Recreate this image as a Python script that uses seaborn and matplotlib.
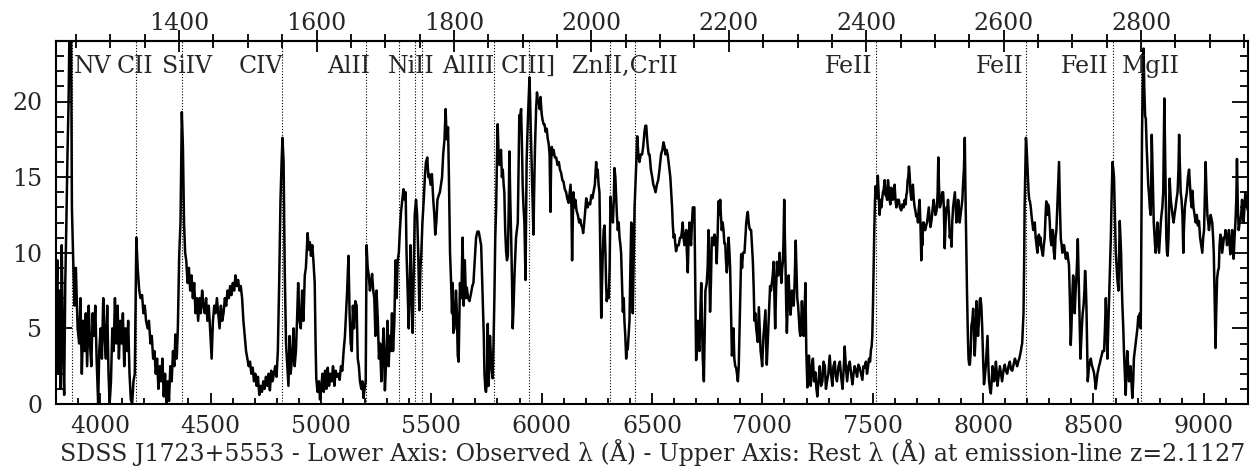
import matplotlib
matplotlib.use("Agg")
import matplotlib.pyplot as plt
from matplotlib.ticker import MultipleLocator, FixedLocator
import seaborn as sns

# SDSS J1723+5553, flux
z_em = 2.1127

wave_obs = [
    3800, 3806, 3811, 3816, 3821, 3826, 3831, 3837, 3842, 3847,
    3852, 3857, 3862, 3868, 3872, 3878, 3884, 3890, 3898, 3905,
    3911, 3917, 3923, 3929, 3935, 3941, 3948, 3954, 3960, 3966,
    3972, 3978, 3984, 3991, 3996, 4002, 4008, 4014, 4020, 4026,
    4032, 4038, 4043, 4049, 4055, 4061, 4067, 4073, 4079, 4085,
    4091, 4097, 4103, 4109, 4115, 4121, 4127, 4133, 4139, 4145,
    4151, 4157, 4160, 4164, 4170, 4177, 4183, 4190, 4196, 4202,
    4208, 4215, 4221, 4228, 4234, 4240, 4246, 4252, 4258, 4264,
    4270, 4276, 4282, 4288, 4294, 4300, 4306, 4312, 4318, 4324,
    4330, 4336, 4341, 4347, 4352, 4358, 4364, 4370, 4375, 4380,
    4385, 4390, 4396, 4402, 4408, 4414, 4420, 4426, 4432, 4438,
    4444, 4450, 4456, 4462, 4468, 4474, 4480, 4486, 4492, 4498,
    4505, 4511, 4517, 4523, 4529, 4535, 4541, 4547, 4553, 4559,
    4565, 4571, 4577, 4583, 4589, 4595, 4601, 4607, 4613, 4619,
    4625, 4631, 4637, 4643, 4649, 4655, 4661, 4667, 4673, 4679,
    4685, 4691, 4697, 4703, 4709, 4715, 4721, 4727, 4733, 4739,
    4745, 4751, 4757, 4763, 4769, 4775, 4781, 4787, 4793, 4799,
    4805, 4811, 4817, 4822, 4826, 4831, 4836, 4842, 4848, 4853,
    4858, 4863, 4869, 4876, 4881, 4887, 4893, 4897, 4903, 4909,
    4915, 4921, 4927, 4932, 4937, 4940, 4945, 4950, 4955, 4961,
    4966, 4972, 4976, 4979, 4985, 4991, 4996, 5001, 5007, 5013,
    5019, 5025, 5031, 5037, 5043, 5049, 5055, 5061, 5067, 5073,
    5079, 5085, 5091, 5097, 5103, 5109, 5114, 5119, 5125, 5130,
    5135, 5140, 5145, 5150, 5156, 5162, 5167, 5172, 5177, 5183,
    5188, 5193, 5198, 5203, 5207, 5212, 5217, 5222, 5227, 5232,
    5237, 5242, 5247, 5252, 5258, 5263, 5268, 5274, 5279, 5284,
    5290, 5296, 5302, 5307, 5312, 5317, 5322, 5327, 5333, 5338,
    5343, 5348, 5353, 5358, 5363, 5369, 5374, 5380, 5384, 5388,
    5392, 5398, 5403, 5406, 5411, 5416, 5421, 5425, 5431, 5436,
    5441, 5446, 5451, 5455, 5460, 5466, 5471, 5476, 5482, 5487,
    5491, 5497, 5503, 5509, 5514, 5518, 5523, 5528, 5534, 5539,
    5544, 5549, 5554, 5560, 5565, 5570, 5576, 5580, 5585, 5590,
    5594, 5597, 5600, 5605, 5612, 5616, 5620, 5624, 5630, 5636,
    5642, 5647, 5652, 5657, 5661, 5667, 5673, 5680, 5686, 5691,
    5697, 5703, 5709, 5715, 5720, 5726, 5733, 5738, 5741, 5745,
    5748, 5752, 5756, 5760, 5766, 5772, 5778, 5782, 5786, 5790,
    5794, 5798, 5801, 5805, 5809, 5813, 5816, 5820, 5824, 5828,
    5831, 5835, 5839, 5843, 5847, 5851, 5854, 5858, 5862, 5866,
    5869, 5873, 5877, 5881, 5884, 5888, 5892, 5896, 5899, 5903,
    5907, 5911, 5914, 5918, 5922, 5927, 5932, 5936, 5940, 5945,
    5948, 5951, 5957, 5963, 5966, 5970, 5975, 5979, 5983, 5987,
    5991, 5995, 6000, 6004, 6009, 6013, 6018, 6023, 6028, 6032,
    6036, 6040, 6043, 6046, 6050, 6054, 6060, 6066, 6072, 6078,
    6083, 6088, 6094, 6099, 6105, 6111, 6116, 6122, 6127, 6131,
    6135, 6138, 6141, 6144, 6149, 6153, 6158, 6164, 6170, 6175,
    6180, 6184, 6188, 6191, 6196, 6202, 6208, 6214, 6220, 6225,
    6230, 6235, 6241, 6247, 6251, 6254, 6258, 6262, 6266, 6270,
    6274, 6277, 6281, 6285, 6289, 6292, 6295, 6300, 6304, 6308,
    6312, 6317, 6323, 6327, 6330, 6334, 6338, 6341, 6345, 6349,
    6353, 6357, 6360, 6364, 6368, 6372, 6375, 6379, 6383, 6387,
    6390, 6394, 6398, 6402, 6406, 6410, 6413, 6418, 6421, 6425,
    6429, 6433, 6438, 6443, 6449, 6455, 6460, 6466, 6470, 6474,
    6478, 6481, 6485, 6489, 6495, 6501, 6506, 6511, 6516, 6522,
    6528, 6534, 6541, 6547, 6552, 6557, 6561, 6566, 6571, 6575,
    6579, 6583, 6587, 6591, 6594, 6598, 6602, 6606, 6609, 6615,
    6621, 6627, 6632, 6636, 6639, 6643, 6647, 6651, 6655, 6658,
    6662, 6666, 6670, 6674, 6677, 6681, 6685, 6689, 6692, 6696,
    6700, 6704, 6707, 6711, 6715, 6719, 6723, 6727, 6730, 6735,
    6738, 6742, 6748, 6752, 6756, 6760, 6763, 6767, 6771, 6775,
    6779, 6783, 6786, 6790, 6793, 6797, 6801, 6805, 6809, 6812,
    6816, 6820, 6824, 6828, 6832, 6835, 6839, 6843, 6847, 6851,
    6854, 6858, 6862, 6866, 6869, 6873, 6877, 6881, 6885, 6889,
    6893, 6896, 6900, 6904, 6908, 6912, 6919, 6923, 6927, 6931,
    6934, 6938, 6942, 6946, 6949, 6953, 6957, 6961, 6964, 6968,
    6972, 6976, 6979, 6984, 6988, 6992, 6996, 6999, 7005, 7010,
    7014, 7017, 7020, 7024, 7028, 7031, 7035, 7039, 7043, 7047,
    7051, 7055, 7058, 7062, 7066, 7069, 7072, 7075, 7078, 7082,
    7086, 7090, 7093, 7096, 7099, 7102, 7105, 7108, 7111, 7115,
    7119, 7123, 7127, 7131, 7134, 7138, 7142, 7146, 7151, 7155,
    7158, 7162, 7166, 7169, 7172, 7176, 7179, 7183, 7187, 7191,
    7195, 7199, 7204, 7208, 7211, 7215, 7219, 7224, 7229, 7234,
    7240, 7245, 7249, 7254, 7260, 7266, 7272, 7277, 7283, 7288,
    7293, 7299, 7305, 7311, 7317, 7322, 7328, 7333, 7338, 7345,
    7351, 7357, 7363, 7368, 7373, 7378, 7384, 7390, 7396, 7402,
    7408, 7413, 7418, 7424, 7429, 7435, 7441, 7447, 7453, 7458,
    7463, 7469, 7474, 7479, 7483, 7488, 7492, 7495, 7498, 7501,
    7504, 7507, 7510, 7513, 7516, 7520, 7523, 7527, 7531, 7535,
    7539, 7543, 7546, 7550, 7554, 7558, 7561, 7565, 7569, 7573,
    7576, 7580, 7584, 7588, 7591, 7595, 7599, 7603, 7607, 7612,
    7618, 7623, 7629, 7634, 7640, 7645, 7649, 7652, 7655, 7658,
    7661, 7664, 7667, 7671, 7675, 7679, 7682, 7686, 7690, 7693,
    7697, 7701, 7705, 7708, 7712, 7716, 7720, 7723, 7725, 7728,
    7731, 7735, 7738, 7742, 7746, 7750, 7754, 7758, 7761, 7765,
    7769, 7772, 7776, 7780, 7784, 7788, 7791, 7794, 7797, 7800,
    7804, 7808, 7811, 7815, 7819, 7822, 7826, 7830, 7834, 7838,
    7841, 7845, 7849, 7853, 7857, 7860, 7864, 7868, 7872, 7876,
    7879, 7883, 7887, 7891, 7894, 7898, 7902, 7906, 7909, 7913,
    7917, 7920, 7924, 7927, 7931, 7934, 7937, 7940, 7944, 7947,
    7951, 7955, 7958, 7962, 7966, 7970, 7974, 7977, 7981, 7985,
    7988, 7992, 7996, 8000, 8004, 8008, 8012, 8016, 8020, 8024,
    8027, 8031, 8035, 8039, 8043, 8047, 8050, 8054, 8058, 8062,
    8065, 8070, 8076, 8081, 8086, 8092, 8098, 8103, 8109, 8115,
    8121, 8126, 8132, 8138, 8144, 8149, 8154, 8159, 8164, 8168,
    8171, 8174, 8177, 8180, 8183, 8186, 8188, 8191, 8194, 8197,
    8200, 8203, 8206, 8209, 8212, 8216, 8219, 8223, 8227, 8230,
    8234, 8238, 8242, 8246, 8249, 8253, 8257, 8260, 8264, 8268,
    8271, 8275, 8279, 8283, 8286, 8290, 8294, 8298, 8302, 8305,
    8309, 8313, 8316, 8320, 8324, 8328, 8332, 8336, 8340, 8344,
    8348, 8352, 8356, 8359, 8363, 8367, 8371, 8375, 8379, 8382,
    8386, 8389, 8393, 8397, 8400, 8402, 8405, 8408, 8412, 8415,
    8419, 8423, 8426, 8429, 8432, 8435, 8438, 8441, 8444, 8447,
    8451, 8455, 8459, 8462, 8465, 8468, 8471, 8474, 8477, 8480,
    8484, 8488, 8492, 8496, 8500, 8503, 8507, 8510, 8514, 8518,
    8522, 8525, 8529, 8533, 8537, 8541, 8545, 8548, 8552, 8556,
    8560, 8563, 8567, 8571, 8575, 8579, 8582, 8586, 8590, 8593,
    8597, 8601, 8605, 8608, 8613, 8616, 8619, 8622, 8625, 8628,
    8631, 8635, 8638, 8642, 8646, 8649, 8653, 8657, 8661, 8664,
    8668, 8672, 8676, 8680, 8683, 8687, 8691, 8695, 8699, 8703,
    8706, 8710, 8714, 8717, 8720, 8724, 8727, 8730, 8734, 8737,
    8741, 8744, 8748, 8752, 8755, 8759, 8761, 8764, 8767, 8770,
    8773, 8776, 8779, 8782, 8786, 8789, 8793, 8797, 8801, 8805,
    8808, 8812, 8816, 8818, 8821, 8825, 8830, 8833, 8836, 8840,
    8845, 8850, 8854, 8858, 8863, 8867, 8872, 8876, 8881, 8885,
    8888, 8891, 8895, 8899, 8903, 8907, 8910, 8914, 8918, 8923,
    8928, 8933, 8937, 8941, 8945, 8948, 8953, 8958, 8963, 8968,
    8973, 8978, 8983, 8988, 8993, 8997, 9001, 9005, 9008, 9012,
    9016, 9020, 9023, 9027, 9031, 9035, 9038, 9042, 9045, 9049,
    9053, 9056, 9060, 9064, 9068, 9071, 9075, 9079, 9083, 9087,
    9091, 9095, 9098, 9102, 9105, 9109, 9113, 9117, 9120, 9124,
    9128, 9131, 9135, 9139, 9143, 9147, 9150, 9154, 9158, 9162,
    9165, 9169, 9173, 9176, 9180, 9184, 9188, 9192, 9196, 9200,
]

flux = [
    5.5, 9.5, 2.0, 7.5, 1.0, 10.5, 4.0, 0.6, 8.0, 12.0,
    16.5, 20.0, 26.0, 26.0, 13.0, 9.5, 6.5, 9.0, 5.0, 4.0,
    7.0, 2.0, 5.5, 3.5, 6.0, 2.5, 6.5, 4.0, 2.5, 6.0,
    4.5, 6.5, 3.0, 0.0, 3.5, 5.0, 3.0, 7.0, 4.5, 3.0,
    6.5, 2.0, 0.0, 1.5, 5.0, 3.5, 7.0, 4.0, 6.5, 3.0,
    5.5, 4.0, 6.0, 2.5, 5.0, 3.5, 5.5, 2.0, 0.3, 0.0,
    1.5, 2.0, 6.0, 11.0, 9.0, 7.5, 7.0, 7.2, 6.0, 6.5,
    5.5, 5.0, 5.5, 4.0, 4.5, 3.0, 3.5, 2.0, 3.0, 1.0,
    2.5, 1.5, 3.0, 0.5, 2.0, 0.0, 1.5, 0.2, 2.5, 1.5,
    3.5, 2.5, 4.6, 3.0, 5.0, 9.8, 12.0, 19.3, 17.0, 12.0,
    10.0, 9.5, 8.0, 9.0, 7.5, 8.5, 7.0, 8.0, 6.0, 7.0,
    5.5, 7.0, 6.0, 7.5, 6.5, 6.0, 7.0, 5.5, 6.5, 5.0,
    3.0, 5.5, 6.5, 6.0, 7.0, 6.0, 5.0, 6.5, 5.5, 6.0,
    7.0, 6.5, 7.5, 7.0, 7.8, 7.2, 8.0, 7.5, 8.5, 7.8,
    8.2, 7.5, 7.8, 7.0, 5.5, 4.5, 3.5, 3.0, 2.5, 2.8,
    2.0, 2.4, 1.5, 2.0, 1.2, 1.8, 0.6, 1.2, 0.8, 1.5,
    1.0, 1.8, 1.2, 2.0, 0.9, 2.2, 1.5, 2.0, 2.5, 1.8,
    3.5, 8.0, 13.5, 16.0, 17.6, 16.0, 9.0, 4.0, 2.5, 1.2,
    4.5, 2.0, 3.0, 5.0, 2.5, 3.5, 6.0, 8.0, 5.5, 5.0,
    7.5, 5.5, 8.5, 9.0, 10.5, 11.3, 10.2, 10.7, 9.8, 10.5,
    9.5, 8.0, 4.0, 1.7, 0.8, 1.5, 0.3, 1.0, 2.0, 0.8,
    2.2, 1.0, 2.4, 1.2, 2.0, 1.5, 2.5, 1.2, 2.2, 1.8,
    2.0, 1.6, 2.5, 2.2, 3.5, 4.5, 6.0, 7.5, 9.8, 6.0,
    4.0, 3.5, 6.5, 5.0, 6.8, 6.5, 3.0, 2.5, 1.5, 1.0,
    1.5, 0.4, 1.0, 1.5, 10.5, 9.0, 8.5, 7.5, 8.0, 8.6,
    7.5, 7.0, 4.5, 7.5, 5.5, 3.0, 4.0, 1.5, 3.5, 5.0,
    0.9, 3.0, 5.5, 2.5, 4.5, 3.5, 6.0, 3.5, 5.5, 9.5,
    7.0, 9.5, 10.0, 11.5, 12.7, 13.5, 14.2, 13.5, 14.0, 10.0,
    8.0, 5.0, 8.0, 10.5, 7.0, 4.7, 9.0, 12.5, 13.5, 12.5,
    10.0, 6.2, 9.0, 10.0, 12.0, 13.5, 15.0, 16.0, 16.3, 15.0,
    15.2, 14.5, 15.2, 13.5, 12.5, 11.2, 12.0, 13.5, 13.8, 14.0,
    14.5, 15.0, 16.5, 17.5, 19.5, 17.5, 18.3, 15.0, 10.0, 8.0,
    6.0, 8.0, 4.7, 5.0, 7.5, 6.0, 3.2, 2.8, 8.0, 7.0,
    11.0, 6.5, 9.5, 7.0, 7.7, 7.0, 6.8, 7.3, 7.8, 8.0,
    9.5, 11.0, 11.4, 11.4, 11.0, 10.5, 7.0, 4.5, 2.0, 1.0,
    0.8, 1.5, 5.3, 1.2, 4.5, 2.5, 1.7, 4.0, 7.0, 11.0,
    13.0, 16.5, 18.5, 16.5, 15.8, 16.5, 16.8, 15.0, 15.5, 14.5,
    14.0, 11.5, 10.1, 9.5, 9.8, 13.0, 16.7, 13.5, 11.0, 8.0,
    5.0, 6.5, 8.5, 10.0, 11.0, 11.5, 12.0, 16.0, 19.1, 19.0,
    19.5, 17.0, 14.5, 13.0, 12.0, 8.2, 16.0, 18.0, 19.7, 21.6,
    20.0, 18.0, 14.5, 11.2, 14.0, 17.0, 19.5, 20.6, 20.0, 20.0,
    19.5, 20.3, 19.2, 18.8, 18.5, 18.5, 18.0, 18.2, 17.5, 17.2,
    16.5, 12.7, 16.0, 17.0, 16.5, 16.8, 16.3, 16.3, 15.8, 16.0,
    15.5, 15.3, 14.8, 14.7, 14.2, 14.0, 13.6, 13.3, 14.0, 14.5,
    13.0, 9.5, 12.0, 14.0, 13.0, 13.5, 12.8, 12.5, 12.0, 12.2,
    11.8, 11.7, 11.3, 11.7, 12.5, 13.6, 13.0, 13.3, 13.2, 13.8,
    13.6, 14.0, 14.5, 16.0, 15.0, 15.5, 14.5, 14.0, 10.0, 5.7,
    8.0, 10.0, 11.5, 11.8, 10.0, 8.0, 6.8, 7.5, 7.0, 9.0,
    13.7, 12.5, 12.0, 13.5, 15.6, 15.0, 13.5, 12.5, 11.5, 12.0,
    11.0, 10.5, 10.0, 8.0, 6.1, 7.0, 5.5, 4.5, 3.0, 4.0,
    3.6, 4.5, 5.5, 9.0, 12.0, 8.0, 6.0, 10.5, 13.0, 14.5,
    16.0, 17.7, 16.5, 16.0, 16.5, 16.5, 17.0, 18.0, 18.4, 18.4,
    17.5, 17.0, 16.5, 16.5, 15.5, 15.0, 14.5, 14.3, 14.0, 14.5,
    14.8, 15.5, 16.5, 16.8, 17.3, 17.0, 16.5, 16.8, 16.5, 16.0,
    15.5, 15.0, 14.0, 13.0, 11.9, 11.0, 11.2, 10.5, 10.1, 10.5,
    10.5, 11.0, 11.0, 11.5, 12.0, 11.0, 10.5, 11.0, 11.5, 10.0,
    8.7, 11.0, 12.0, 11.0, 10.5, 12.0, 13.0, 13.0, 13.0, 8.0,
    2.9, 4.0, 5.5, 4.0, 3.5, 6.0, 8.0, 5.0, 3.0, 1.5,
    4.0, 7.5, 8.0, 9.0, 11.5, 9.0, 6.1, 8.0, 11.0, 11.0,
    10.5, 11.2, 11.0, 10.5, 9.3, 11.0, 13.4, 12.5, 13.5, 12.5,
    11.5, 12.0, 11.5, 10.6, 10.6, 9.5, 8.7, 9.5, 11.0, 10.0,
    9.0, 6.0, 3.2, 4.0, 5.0, 3.0, 2.5, 2.4, 2.0, 1.5,
    2.5, 4.6, 7.5, 9.9, 9.0, 10.0, 10.0, 11.0, 12.0, 12.5,
    12.7, 12.0, 11.6, 11.5, 11.5, 10.5, 9.4, 7.5, 5.5, 6.0,
    5.0, 4.5, 4.1, 6.4, 5.0, 3.5, 3.0, 2.5, 4.5, 5.5,
    6.2, 4.0, 2.6, 4.0, 5.5, 6.5, 7.8, 7.5, 8.0, 8.5,
    9.4, 7.0, 5.0, 7.5, 9.4, 8.5, 8.5, 9.0, 10.0, 9.0,
    8.0, 9.0, 9.4, 11.0, 13.5, 11.0, 9.0, 6.5, 4.7, 6.5,
    8.5, 7.0, 5.9, 6.5, 7.5, 7.0, 6.5, 8.0, 10.8, 8.5,
    7.0, 6.5, 5.5, 4.8, 4.5, 5.5, 6.8, 5.5, 4.5, 6.0,
    8.0, 3.5, 1.1, 2.0, 3.2, 2.0, 1.2, 2.5, 3.0, 1.5,
    2.1, 1.0, 0.5, 1.5, 2.5, 1.2, 1.5, 2.8, 2.5, 1.0,
    1.5, 2.0, 3.2, 2.0, 1.2, 2.5, 2.8, 1.8, 1.5, 2.5,
    2.8, 1.8, 1.0, 2.2, 3.8, 2.5, 1.5, 2.5, 2.8, 2.0,
    1.3, 2.0, 2.5, 2.2, 1.8, 2.6, 2.4, 2.0, 1.6, 2.5,
    2.4, 2.8, 2.0, 2.5, 3.0, 2.8, 3.6, 3.8, 4.5, 6.5,
    9.0, 11.5, 13.4, 14.4, 14.0, 13.6, 15.1, 13.8, 12.5, 13.5,
    13.0, 13.6, 14.0, 14.2, 14.8, 13.8, 14.0, 13.5, 14.8, 14.2,
    13.5, 13.2, 14.3, 13.8, 13.5, 13.8, 14.5, 13.5, 13.0, 13.5,
    13.5, 13.0, 12.8, 13.2, 13.0, 13.5, 13.2, 13.8, 14.0, 14.8,
    15.0, 15.7, 15.2, 14.0, 13.5, 14.2, 14.5, 13.5, 13.0, 12.8,
    12.4, 12.5, 12.0, 12.8, 13.5, 12.0, 9.5, 11.0, 10.5, 12.0,
    12.0, 11.5, 11.5, 11.8, 12.0, 12.5, 13.0, 12.3, 11.7, 12.0,
    12.5, 13.0, 13.5, 13.0, 12.5, 12.7, 13.0, 14.0, 16.3, 14.5,
    13.0, 13.2, 13.5, 14.0, 14.0, 13.0, 10.3, 12.0, 13.0, 13.0,
    13.5, 12.5, 11.0, 11.5, 10.4, 12.0, 13.0, 13.5, 14.0, 13.0,
    12.0, 12.5, 13.5, 12.8, 12.0, 12.5, 13.0, 13.5, 14.5, 15.5,
    17.6, 14.0, 10.0, 7.4, 4.5, 3.0, 2.6, 2.6, 3.5, 5.2,
    5.5, 6.3, 5.0, 3.2, 4.5, 6.8, 5.5, 4.5, 5.5, 6.9,
    7.0, 6.5, 5.0, 3.0, 1.3, 1.8, 2.5, 3.5, 4.5, 2.5,
    1.5, 1.0, 0.7, 1.5, 2.5, 2.0, 1.5, 2.0, 2.8, 2.0,
    1.2, 1.8, 2.5, 2.0, 1.5, 2.2, 2.6, 2.2, 2.0, 2.5,
    2.8, 2.3, 2.2, 2.6, 3.0, 2.8, 2.5, 2.8, 3.0, 3.3,
    3.5, 3.8, 4.0, 5.0, 6.0, 9.5, 13.0, 15.5, 17.6, 17.0,
    16.0, 15.0, 14.0, 13.5, 13.4, 13.0, 12.5, 12.0, 11.5, 11.8,
    12.0, 11.0, 10.5, 10.0, 11.0, 11.2, 10.5, 11.0, 10.3, 10.0,
    9.8, 10.5, 11.0, 12.5, 13.4, 12.5, 13.2, 13.0, 12.0, 11.0,
    10.5, 11.5, 11.5, 10.1, 9.6, 11.0, 11.5, 13.0, 14.5, 16.0,
    13.0, 10.9, 10.5, 10.0, 10.5, 10.5, 10.0, 9.6, 10.0, 10.0,
    9.5, 9.2, 7.0, 3.9, 5.0, 6.0, 7.5, 8.5, 7.5, 6.0,
    7.5, 8.5, 9.5, 10.9, 9.0, 7.0, 5.0, 3.0, 4.0, 5.0,
    6.0, 6.5, 7.5, 8.8, 8.0, 6.5, 4.0, 1.5, 2.0, 2.5,
    2.8, 3.0, 2.6, 2.4, 2.2, 2.0, 1.5, 1.0, 1.5, 2.0,
    2.3, 2.5, 2.7, 3.0, 3.2, 3.5, 3.5, 3.5, 5.0, 7.0,
    5.0, 3.0, 5.0, 7.0, 9.0, 11.2, 13.5, 16.0, 15.5, 15.0,
    12.5, 10.0, 9.0, 8.3, 7.5, 10.0, 12.1, 11.0, 10.0, 8.0,
    6.5, 5.0, 3.5, 2.0, 0.6, 2.0, 3.5, 2.5, 1.5, 2.0,
    2.5, 1.5, 0.4, 1.5, 3.0, 3.5, 4.0, 4.5, 5.0, 5.8,
    5.2, 6.0, 5.0, 12.0, 18.0, 22.0, 23.5, 21.0, 19.0, 18.9,
    17.0, 16.0, 14.5, 13.8, 13.0, 12.5, 14.0, 17.8, 16.0, 14.0,
    12.0, 11.2, 10.5, 10.0, 11.0, 12.0, 11.0, 10.0, 11.0, 12.0,
    12.5, 13.0, 14.0, 16.5, 20.2, 16.0, 11.0, 10.0, 9.8, 11.0,
    14.9, 13.5, 13.0, 12.5, 12.0, 12.5, 13.0, 13.5, 14.0, 15.5,
    17.8, 16.0, 14.0, 13.5, 12.5, 10.0, 11.7, 13.0, 13.5, 14.0,
    15.0, 15.5, 14.5, 13.5, 13.0, 14.1, 13.0, 12.5, 12.0, 12.5,
    11.8, 12.1, 11.0, 10.5, 10.0, 11.0, 11.5, 14.0, 16.0, 14.0,
    12.5, 12.0, 11.5, 12.0, 12.5, 12.2, 12.0, 11.0, 10.0, 7.0,
    3.7, 6.0, 8.3, 8.8, 9.0, 10.5, 11.2, 11.0, 10.0, 10.5,
    11.0, 11.0, 11.5, 11.0, 10.5, 11.0, 11.5, 10.5, 9.9, 10.5,
    11.5, 10.5, 9.6, 11.0, 12.0, 13.5, 16.2, 13.0, 11.5, 12.0,
    12.0, 12.5, 13.5, 12.5, 12.0, 13.0, 14.0, 13.5, 13.0, 12.8,
]

# rest wavelengths of the dotted line markers
marker_rest = [1244.3, 1337.4, 1403.9, 1550.4, 1671.9, 1719.4, 1743.5, 1753.2,
               1858.8, 1909.9, 2027.5, 2063.8, 2413.7, 2632.1, 2759.3, 2799.5]

# ion labels along the top and where they sit (observed wavelength)
ion_names = ["NV", "CII", "SiIV", "CIV", "AlII", "NiII", "AlIII", "CIII]",
             "ZnII,CrII", "FeII", "FeII", "FeII", "MgII"]
ion_label_obs = [3968, 4156, 4394, 4730, 5124, 5410, 5666, 5938,
                 6375, 7391, 8073, 8461, 8758]

rest_ticks = [1400, 1600, 1800, 2000, 2200, 2400, 2600, 2800]

caption = ("SDSS J1723+5553 - Lower Axis: Observed \u03bb (\u00c5) - "
           "Upper Axis: Rest \u03bb (\u00c5) at emission-line z=2.1127")

assert len(wave_obs) == len(flux)

sns.set_theme(style="ticks")
plt.rcParams["font.family"] = ["DejaVu Serif"]
plt.rcParams["axes.linewidth"] = 1.5

fig = plt.figure(figsize=(12.56, 4.67), dpi=100)
ax = fig.add_axes([56 / 1256, 63 / 467, 1192 / 1256, 363 / 467])

sns.lineplot(x=wave_obs, y=flux, ax=ax, color="black", linewidth=1.8,
             estimator=None, sort=False)

for w in marker_rest:
    ax.axvline(w * (1 + z_em), color="black", lw=0.8, ls=(0, (1, 1.6)), zorder=1)

for name, w in zip(ion_names, ion_label_obs):
    ax.text(w, 21.9, name, ha="center", va="baseline", fontsize=17)

ax.set_xlim(3800, 9200)
ax.set_ylim(0, 24)
ax.set_xlabel("")
ax.set_ylabel("")

ax.xaxis.set_major_locator(MultipleLocator(500))
ax.xaxis.set_minor_locator(MultipleLocator(100))
ax.yaxis.set_major_locator(MultipleLocator(5))
ax.yaxis.set_minor_locator(MultipleLocator(1))
ax.tick_params(axis="x", which="both", direction="in", top=False, bottom=True,
               labelsize=17, pad=8, width=1.3, color="black")
ax.tick_params(axis="x", which="major", length=8)
ax.tick_params(axis="x", which="minor", length=4.5)
ax.tick_params(axis="y", which="both", direction="in", left=True, right=True,
               labelsize=17, pad=10, width=1.3, color="black")
ax.tick_params(axis="y", which="major", length=11.5)
ax.tick_params(axis="y", which="minor", length=6)

secax = ax.secondary_xaxis("top", functions=(lambda x: x / (1 + z_em),
                                             lambda x: x * (1 + z_em)))
secax.xaxis.set_major_locator(FixedLocator(rest_ticks))
secax.xaxis.set_minor_locator(MultipleLocator(50))
secax.tick_params(which="both", direction="inout", labelsize=17, pad=-4,
                  width=1.3, color="black")
secax.tick_params(which="major", length=16)
secax.tick_params(which="minor", length=9.5)

for sp in ax.spines.values():
    sp.set_color("black")
    sp.set_linewidth(1.5)

fig.text(653 / 1256, 14 / 467, caption, ha="center", va="center", fontsize=17)

fig.savefig("out.png", dpi=100, facecolor="white")
